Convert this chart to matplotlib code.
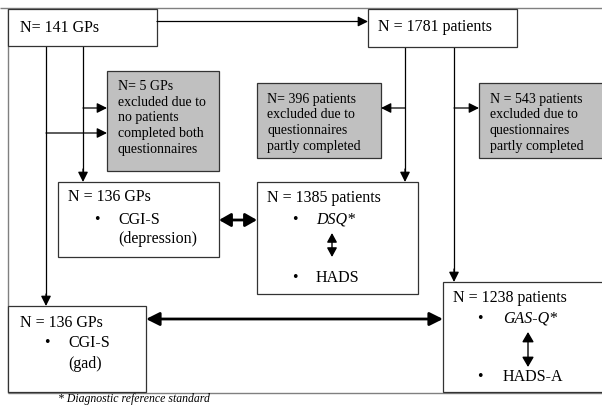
import matplotlib
matplotlib.use("Agg")
import matplotlib.pyplot as plt
from matplotlib.patches import Rectangle, FancyArrowPatch

plt.rcParams['font.family'] = ['Liberation Serif', 'DejaVu Serif']

# ---- content ----
gp_total = "N= 141 GPs"
patients_total = "N = 1781 patients"
gp_excluded = ["N= 5 GPs", "excluded due to", "no patients", "completed both", "questionnaires"]
pat_excluded_dep = ["N= 396 patients", "excluded due to", "questionnaires", "partly completed"]
pat_excluded_gad = ["N = 543 patients", "excluded due to", "questionnaires", "partly completed"]
gp_dep_title = "N = 136 GPs"
gp_dep_items = ["CGI-S", "(depression)"]
pat_dep_title = "N = 1385 patients"
pat_dep_items = ["DSQ*", "HADS"]
gp_gad_title = "N = 136 GPs"
gp_gad_items = ["CGI-S", "(gad)"]
pat_gad_title = "N = 1238 patients"
pat_gad_items = ["GAS-Q*", "HADS-A"]
footnote = "* Diagnostic reference standard"

W, H = 602, 406
fig = plt.figure(figsize=(W / 100, H / 100), dpi=100)
ax = fig.add_axes([0, 0, 1, 1])
ax.set_xlim(0, W)
ax.set_ylim(H, 0)
ax.axis('off')

EDGE = '#333333'
FRAME = '#808080'
GREY = '#c0c0c0'
LW = 0.9
FS_BIG = 11.5
FS_SMALL = 10

def box(x0, y0, x1, y1, fill='white'):
    ax.add_patch(Rectangle((x0, y0), x1 - x0, y1 - y0, facecolor=fill,
                           edgecolor=EDGE, lw=LW, zorder=2))

def line(xs, ys, lw=LW, color='black'):
    ax.plot(xs, ys, color=color, lw=lw, solid_capstyle='butt', zorder=1)

def arrow(p0, p1, lw=LW, style='-|>', hl=0.6, hw=0.3, ms=10):
    a = FancyArrowPatch(p0, p1, arrowstyle=f'{style},head_length={hl},head_width={hw}',
                        mutation_scale=ms, lw=lw, color='black',
                        shrinkA=0, shrinkB=0, zorder=3)
    ax.add_patch(a)

# outer frame
line([0, W], [9, 9], color=FRAME, lw=1.0)
line([8, 8], [9, 394], color=FRAME, lw=1.0)
line([8, W], [394, 394], color=FRAME, lw=1.0)

# box 1: GPs
box(8, 10, 157, 47)
ax.text(20, 28, gp_total, fontsize=FS_BIG, va='center', ha='left', zorder=4)

# box 2: patients
box(368, 10, 517, 48)
ax.text(378, 27, patients_total, fontsize=FS_BIG, va='center', ha='left', zorder=4)

# arrow GPs -> patients
arrow((157, 22.5), (368, 22.5))

# excluded GP box
box(107, 72, 219, 172, fill=GREY)
for i, t in enumerate(gp_excluded):
    ax.text(118, 86 + 16 * i, t, fontsize=FS_SMALL, va='center', ha='left', zorder=4)

# excluded patient boxes
box(257, 84, 381, 159, fill=GREY)
for i, t in enumerate(pat_excluded_dep):
    ax.text(267, 99 + 15.7 * i, t, fontsize=FS_SMALL, va='center', ha='left', zorder=4)
box(479, 84, 606, 159, fill=GREY)
for i, t in enumerate(pat_excluded_gad):
    ax.text(490, 99 + 15.7 * i, t, fontsize=FS_SMALL, va='center', ha='left', zorder=4)

# GP lines
line([83, 83], [47, 175])
arrow((83, 170), (83, 183))
arrow((83, 109), (107, 109))
line([46, 46], [47, 300])
arrow((46, 295), (46, 307))
arrow((46, 134), (107, 134))

# patient lines
line([405, 405], [48, 175])
arrow((405, 170), (405, 183))
arrow((405, 109), (381, 109))
line([454, 454], [48, 275])
arrow((454, 270), (454, 283))
arrow((454, 109), (479, 109))

# GP depression box
box(58, 183, 219, 258)
ax.text(68, 197, gp_dep_title, fontsize=FS_BIG, va='center', ha='left', zorder=4)
ax.text(97, 220, '\u2022', fontsize=FS_BIG, va='center', ha='center', zorder=4)
ax.text(118, 220, gp_dep_items[0], fontsize=FS_BIG, va='center', ha='left', zorder=4)
ax.text(118, 239, gp_dep_items[1], fontsize=FS_BIG, va='center', ha='left', zorder=4)

# patient depression box
box(257, 183, 418, 295)
ax.text(267, 198, pat_dep_title, fontsize=FS_BIG, va='center', ha='left', zorder=4)
ax.text(295, 220, '\u2022', fontsize=FS_BIG, va='center', ha='center', zorder=4)
ax.text(316, 220, pat_dep_items[0], fontsize=FS_BIG, va='center', ha='left',
        style='italic', zorder=4)
ax.text(295, 278, '\u2022', fontsize=FS_BIG, va='center', ha='center', zorder=4)
ax.text(316, 278, pat_dep_items[1], fontsize=FS_BIG, va='center', ha='left', zorder=4)
arrow((332, 234), (332, 258), style='<|-|>', hl=0.55, hw=0.3, ms=10, lw=1.0)

# thick double arrow GP dep <-> patient dep
arrow((219, 221), (257, 221), style='<|-|>', hl=0.7, hw=0.4, ms=10, lw=2.0)

# GP gad box
box(8, 307, 146, 393)
ax.text(20, 323, gp_gad_title, fontsize=FS_BIG, va='center', ha='left', zorder=4)
ax.text(47, 343, '\u2022', fontsize=FS_BIG, va='center', ha='center', zorder=4)
ax.text(68, 343, gp_gad_items[0], fontsize=FS_BIG, va='center', ha='left', zorder=4)
ax.text(68, 364, gp_gad_items[1], fontsize=FS_BIG, va='center', ha='left', zorder=4)

# patient gad box
box(443, 283, 606, 393)
ax.text(453, 298, pat_gad_title, fontsize=FS_BIG, va='center', ha='left', zorder=4)
ax.text(480, 319, '\u2022', fontsize=FS_BIG, va='center', ha='center', zorder=4)
ax.text(503, 319, pat_gad_items[0], fontsize=FS_BIG, va='center', ha='left',
        style='italic', zorder=4)
ax.text(480, 377, '\u2022', fontsize=FS_BIG, va='center', ha='center', zorder=4)
ax.text(503, 377, pat_gad_items[1], fontsize=FS_BIG, va='center', ha='left', zorder=4)
arrow((528, 333), (528, 368), style='<|-|>', hl=0.6, hw=0.35, ms=10, lw=1.0)

# thick double arrow GP gad <-> patient gad
arrow((146, 320), (443, 320), style='<|-|>', hl=0.8, hw=0.4, ms=10, lw=2.0)

# footnote
ax.text(58, 399.5, footnote, fontsize=8.5, va='center', ha='left', style='italic', zorder=4)

fig.savefig('out.png', dpi=100)
